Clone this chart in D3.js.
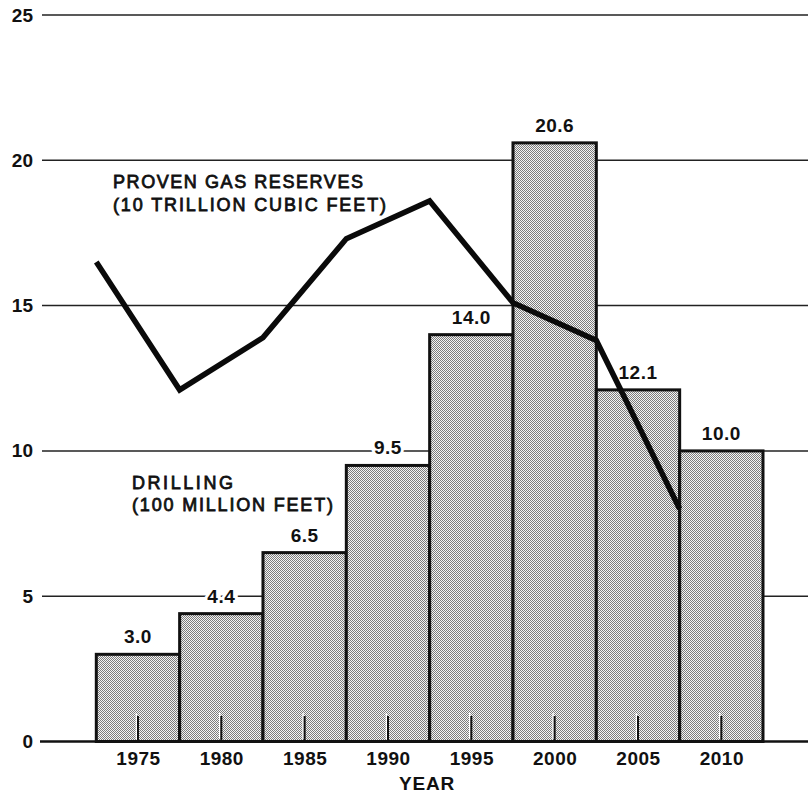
<!DOCTYPE html>
<html>
<head>
<meta charset="utf-8">
<script src="https://cdn.jsdelivr.net/npm/d3@7"></script>
<style>
  html, body { margin: 0; padding: 0; background: #fff; }
  svg { display: block; }
  text { font-family: "Liberation Sans", Arial, Helvetica, sans-serif; fill: #111; }
</style>
</head>
<body>
<svg id="chart" width="808" height="794"></svg>
<script>
// Drilling footage per five-year period (100 million feet)
const years = [1975, 1980, 1985, 1990, 1995, 2000, 2005, 2010];
const drilling = [3.0, 4.4, 6.5, 9.5, 14.0, 20.6, 12.1, 10.0];

// Proven gas reserves at the period boundaries (10 trillion cubic feet)
const reserveYears = [1972.5, 1977.5, 1982.5, 1987.5, 1992.5, 1997.5, 2002.5, 2007.5];
const reserves = [16.5, 12.1, 13.9, 17.3, 18.6, 15.1, 13.8, 8.0];

const yTicks = [0, 5, 10, 15, 20, 25];
const xLabels = ["1975", "1980", "1985", "1990", "1995", "2000", "2005", "2010"];

const svg = d3.select("#chart");
const W = 808;

const x = d3.scaleLinear().domain([1972.5, 2012.5]).range([96.3, 763]);
const y = d3.scaleLinear().domain([0, 25]).range([741.5, 15]);

// stipple fill for the bars
const defs = svg.append("defs");
const pat = defs.append("pattern")
  .attr("id", "stipple")
  .attr("patternUnits", "userSpaceOnUse")
  .attr("width", 2).attr("height", 2);
pat.append("rect").attr("width", 2).attr("height", 2).attr("fill", "#f4f4f4");
pat.append("rect").attr("x", 0).attr("y", 0).attr("width", 1).attr("height", 1).attr("fill", "#7c7c7c");
pat.append("rect").attr("x", 1).attr("y", 1).attr("width", 1).attr("height", 1).attr("fill", "#7c7c7c");

// horizontal gridlines with y-axis labels
const yAxis = d3.axisLeft(y).tickValues(yTicks).tickSize(0).tickPadding(0);
const gy = svg.append("g").attr("transform", "translate(33,0)").call(yAxis);
gy.select(".domain").remove();
gy.selectAll("text")
  .attr("x", 0)
  .style("font-size", "19px")
  .style("font-weight", "bold")
  .attr("fill", "#111")
  .attr("text-anchor", "end");

svg.append("g").selectAll("line")
  .data(yTicks.filter(d => d > 0))
  .join("line")
  .attr("x1", 42).attr("x2", W)
  .attr("y1", d => y(d)).attr("y2", d => y(d))
  .attr("stroke", "#222").attr("stroke-width", 1.5);

// baseline
svg.append("line")
  .attr("x1", 40).attr("x2", W)
  .attr("y1", y(0)).attr("y2", y(0))
  .attr("stroke", "#111").attr("stroke-width", 2.6);

// drilling bars
svg.append("g").selectAll("rect")
  .data(years.map((yr, i) => ({ yr, v: drilling[i] })))
  .join("rect")
  .attr("x", d => x(d.yr - 2.5))
  .attr("width", d => x(d.yr + 2.5) - x(d.yr - 2.5))
  .attr("y", d => y(d.v))
  .attr("height", d => y(0) - y(d.v))
  .attr("fill", "url(#stipple)")
  .attr("stroke", "#111")
  .attr("stroke-width", 3);

// small year ticks inside the bars
const ticks = svg.append("g");
ticks.selectAll("line.hl")
  .data(years)
  .join("line").attr("class", "hl")
  .attr("x1", d => x(d) - 1.6).attr("x2", d => x(d) - 1.6)
  .attr("y1", 713).attr("y2", 739)
  .attr("stroke", "#fff").attr("stroke-width", 1.4);
ticks.selectAll("line.tk")
  .data(years)
  .join("line").attr("class", "tk")
  .attr("x1", d => x(d)).attr("x2", d => x(d))
  .attr("y1", 716).attr("y2", 740)
  .attr("stroke", "#111").attr("stroke-width", 2);

// x-axis year labels
const xAxis = d3.axisBottom(x).tickValues(years).tickFormat((d, i) => xLabels[i]).tickSize(0).tickPadding(0);
const gx = svg.append("g").attr("transform", "translate(0,765)").call(xAxis);
gx.select(".domain").remove();
gx.selectAll("text")
  .attr("y", 0).attr("dy", null)
  .attr("fill", "#111")
  .style("font-size", "19px")
  .style("font-weight", "bold")
  .style("letter-spacing", "0.5px");

svg.append("text")
  .attr("x", 427).attr("y", 790)
  .attr("text-anchor", "middle")
  .style("font-size", "19px").style("font-weight", "bold")
  .style("letter-spacing", "0.8px")
  .text("YEAR");

// bar value labels (white halo breaks gridlines behind them)
svg.append("g").selectAll("text")
  .data(years.map((yr, i) => ({ yr, v: drilling[i] })))
  .join("text")
  .attr("x", d => x(d.yr))
  .attr("y", d => y(d.v) - 11)
  .attr("text-anchor", "middle")
  .style("font-size", "19px").style("font-weight", "bold")
  .style("letter-spacing", "0.5px")
  .attr("stroke", "#fff").attr("stroke-width", 6)
  .attr("paint-order", "stroke")
  .text(d => d.v.toFixed(1));

// series captions
function caption(lines, x0, baselines, widths) {
  lines.forEach((t, i) => {
    svg.append("text")
      .attr("x", x0).attr("y", baselines[i])
      .attr("textLength", widths[i])
      .attr("lengthAdjust", "spacing")
      .style("font-size", "18px")
      .attr("stroke", "#111").attr("stroke-width", 0.8)
      .text(t);
  });
}
caption(["PROVEN GAS RESERVES", "(10 TRILLION CUBIC FEET)"], 113, [188, 211], [250, 273]);
caption(["DRILLING", "(100 MILLION FEET)"], 132, [489, 511], [101, 201]);

// proven reserves line
const line = d3.line().x(d => x(d[0])).y(d => y(d[1]));
svg.append("path")
  .datum(reserveYears.map((yr, i) => [yr, reserves[i]]))
  .attr("d", line)
  .attr("fill", "none")
  .attr("stroke", "#0a0a0a")
  .attr("stroke-width", 5.5)
  .attr("stroke-linejoin", "miter");
</script>
</body>
</html>
